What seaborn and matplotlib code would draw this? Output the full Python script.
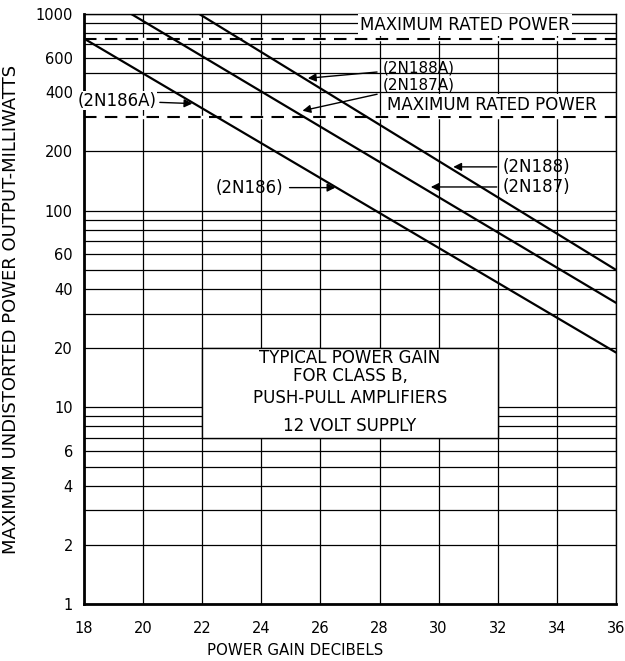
import numpy as np
import pandas as pd
import matplotlib
matplotlib.use("Agg")
import matplotlib.pyplot as plt
from matplotlib.ticker import FixedLocator, NullFormatter, LogLocator
from matplotlib.patches import Rectangle
import seaborn as sns

# curve end points (power gain dB, max undistorted power mW)
gain_2n186 = [18.0, 36.0]
power_2n186 = [750, 19]
gain_2n187 = [19.6, 36.0]
power_2n187 = [1000, 34]
gain_2n188 = [21.9, 36.0]
power_2n188 = [1000, 50]

rated_power_a = 750   # 2N186A/2N187A/2N188A
rated_power = 300

x_ticks = [18, 20, 22, 24, 26, 28, 30, 32, 34, 36]
y_ticks = [1, 2, 4, 6, 10, 20, 40, 60, 100, 200, 400, 600, 1000]

df = pd.concat([
    pd.DataFrame({"gain": gain_2n186, "power": power_2n186, "type": "2N186"}),
    pd.DataFrame({"gain": gain_2n187, "power": power_2n187, "type": "2N187"}),
    pd.DataFrame({"gain": gain_2n188, "power": power_2n188, "type": "2N188"}),
])

sns.set_style("white")
plt.rcParams["font.family"] = ["DejaVu Sans"]
plt.rcParams["text.color"] = "black"
plt.rcParams["axes.labelcolor"] = "black"
plt.rcParams["xtick.color"] = "black"
plt.rcParams["ytick.color"] = "black"

fig = plt.figure(figsize=(6.25, 6.61), dpi=100)
ax = fig.add_axes([0.1344, 0.0862, 0.8512, 0.8926])

ax.set_yscale("log")
ax.set_xlim(18, 36)
ax.set_ylim(1, 1000)

# grid
ax.yaxis.set_minor_locator(LogLocator(base=10, subs=np.arange(2, 10)))
ax.yaxis.set_minor_formatter(NullFormatter())
ax.grid(True, which="both", axis="y", color="black", lw=0.9)
ax.xaxis.set_major_locator(FixedLocator(x_ticks))
ax.grid(True, which="major", axis="x", color="black", lw=0.9)
ax.set_axisbelow(True)

sns.lineplot(data=df, x="gain", y="power", units="type", estimator=None,
             color="black", lw=1.6, ax=ax, legend=False)

# dashed rated-power lines replace the grid line underneath
for rp in (rated_power_a, rated_power):
    ax.axhline(rp, color="white", lw=2.5, zorder=1.5)
    ax.axhline(rp, color="black", lw=1.5, ls=(0, (6, 4)), zorder=1.6)

ax.yaxis.set_major_locator(FixedLocator(y_ticks))
ax.set_yticklabels([str(v) for v in y_ticks])
ax.set_xticklabels([str(v) for v in x_ticks])
ax.tick_params(axis="both", which="both", length=0, labelsize=10.5)
ax.tick_params(axis="x", pad=12)
ax.tick_params(axis="y", pad=8)

for s in ax.spines.values():
    s.set_color("black")
    s.set_linewidth(1.0)
ax.spines["left"].set_linewidth(2.0)
ax.spines["bottom"].set_linewidth(2.0)

ax.set_xlabel("POWER GAIN DECIBELS", fontsize=10.8, labelpad=5, x=0.397)
ax.set_ylabel("MAXIMUM UNDISTORTED POWER OUTPUT-MILLIWATTS", fontsize=13, labelpad=11)

# info box
ax.add_patch(Rectangle((22, 7), 10, 13, facecolor="white", edgecolor="black", lw=1.0, zorder=3))
box_lines = [("TYPICAL POWER GAIN", 17.9), ("FOR CLASS B,", 14.4),
             ("PUSH-PULL AMPLIFIERS", 11.2), ("12 VOLT SUPPLY", 8.0)]
for txt, yy in box_lines:
    ax.text(27, yy, txt, ha="center", va="center", fontsize=12, zorder=4)

white = dict(facecolor="white", edgecolor="none", pad=1.5)
ax.text(30.9, 880, "MAXIMUM RATED POWER", ha="center", va="center", fontsize=12,
        bbox=white, zorder=4)
ax.text(28.25, 345, "MAXIMUM RATED POWER", ha="left", va="center", fontsize=12,
        bbox=white, zorder=4)

arrow = dict(arrowstyle="-|>", color="black", lw=1.0, mutation_scale=12)
ax.annotate("(2N186A)", xy=(21.76, 350), xytext=(20.45, 362), ha="right", va="center",
            fontsize=12, arrowprops=arrow, zorder=4,
            bbox=dict(facecolor="white", edgecolor="none", pad=0.5))
ax.annotate("(2N188A)", xy=(25.48, 470), xytext=(28.12, 530), ha="left", va="center",
            fontsize=11, arrowprops=arrow, zorder=4)
ax.annotate("(2N187A)", xy=(25.3, 320), xytext=(28.12, 436), ha="left", va="center",
            fontsize=11, arrowprops=arrow, zorder=4)
ax.annotate("(2N188)", xy=(30.4, 167), xytext=(32.17, 167), ha="left", va="center",
            fontsize=12, arrowprops=arrow, zorder=4)
ax.annotate("(2N187)", xy=(29.64, 132), xytext=(32.17, 132), ha="left", va="center",
            fontsize=12, arrowprops=arrow, zorder=4)
ax.annotate("(2N186)", xy=(26.6, 131), xytext=(24.75, 131), ha="right", va="center",
            fontsize=12, arrowprops=arrow, zorder=4)

fig.savefig("out.png", dpi=100, facecolor="white")
